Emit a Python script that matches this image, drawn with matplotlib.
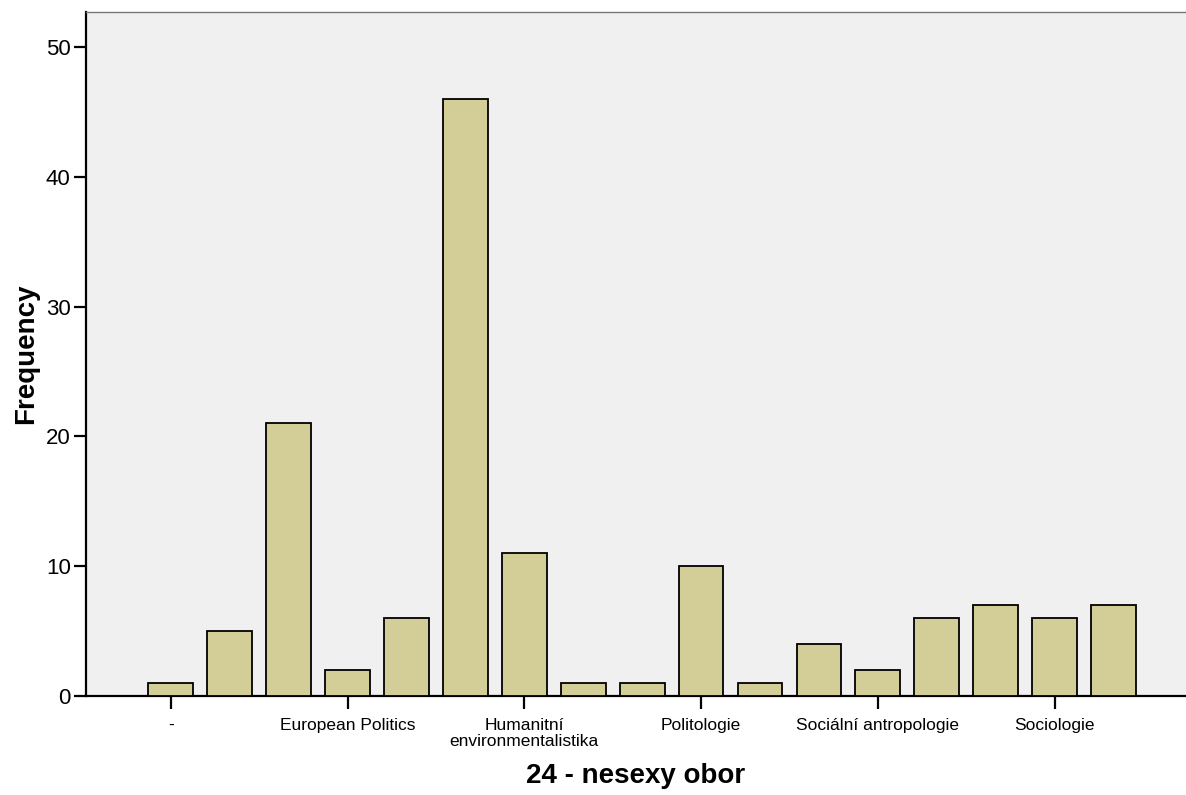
import matplotlib.pyplot as plt

plt.rcParams['font.family'] = ['Liberation Sans', 'DejaVu Sans']

# one bar per category (17), only every third category is labelled on the axis
counts = [1, 5, 21, 2, 6, 46, 11, 1, 1, 10, 1, 4, 2, 6, 7, 6, 7]
labelled_idx = [0, 3, 6, 9, 12, 15]
tick_labels = ['-', 'European Politics', 'Humanitní\nenvironmentalistika',
               'Politologie', 'Sociální antropologie', 'Sociologie']
y_ticks = [0, 10, 20, 30, 40, 50]

fig = plt.figure(figsize=(11.86, 7.95), dpi=100)
ax = fig.add_axes([0.0725, 0.1245, 0.9275, 0.8605])
ax.set_facecolor('#F0F0F0')

x = list(range(len(counts)))
ax.bar(x, counts, width=0.76, color='#D3CE97', edgecolor='black', linewidth=1.3, zorder=3)

ax.set_xlim(-1.44, 17.23)
ax.set_ylim(0, 52.7)

ax.set_xticks(labelled_idx)
ax.set_xticklabels(tick_labels, fontsize=12.5, linespacing=1.05)
ax.set_yticks(y_ticks)
ax.set_yticklabels([str(v) for v in y_ticks], fontsize=16)
ax.tick_params(axis='both', direction='out', length=9, width=1.6, color='black')
ax.tick_params(axis='x', pad=7)
ax.tick_params(axis='y', pad=2)

for side in ['left', 'bottom']:
    ax.spines[side].set_linewidth(1.6)
    ax.spines[side].set_color('black')
ax.spines['top'].set_color('#777777')
ax.spines['top'].set_linewidth(1.0)
ax.spines['right'].set_visible(False)

ax.set_xlabel('24 - nesexy obor', fontsize=20, fontweight='bold', labelpad=10)
ax.set_ylabel('Frequency', fontsize=20, fontweight='bold', labelpad=5)

fig.savefig('out.png', dpi=100)
